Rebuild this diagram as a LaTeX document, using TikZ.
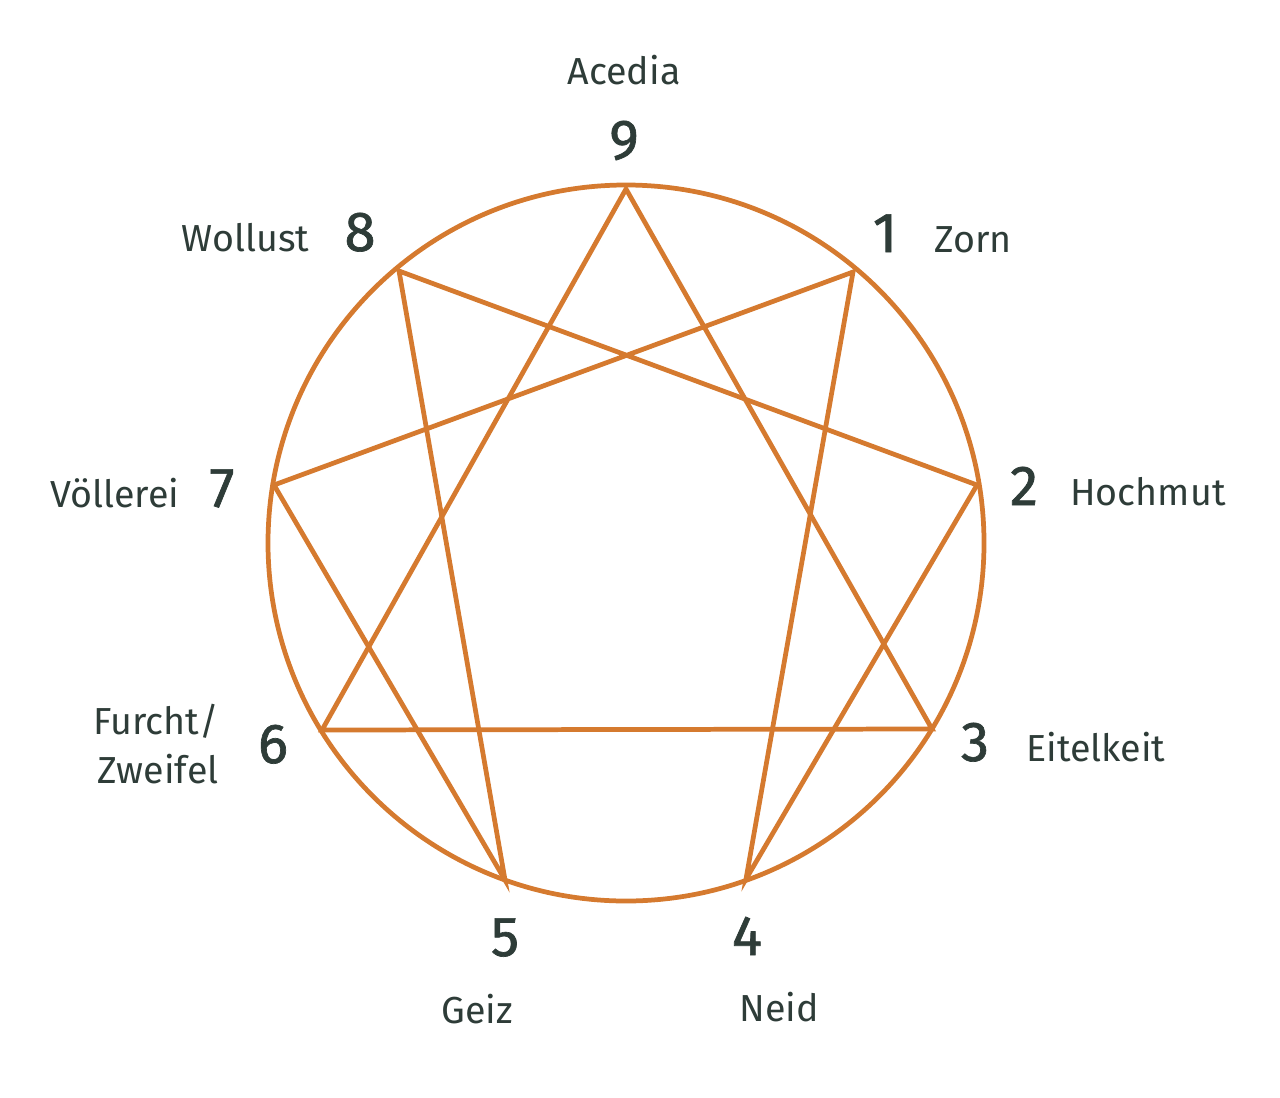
\documentclass[tikz,border=0pt]{standalone}
\usepackage{fontspec}
\setmainfont{Fira Sans}
\newfontfamily\numfont[FakeBold=1.2]{Fira Sans}
\usepackage{xcolor}
\usetikzlibrary{positioning}
\definecolor{ennorange}{HTML}{D57A2F}
\definecolor{enntext}{HTML}{2E3C38}

\begin{document}
\begin{tikzpicture}[
    num/.style ={inner sep=0pt, text=enntext, font=\numfont\fontsize{16}{18}\selectfont},
    lbl/.style ={inner sep=0pt, text=enntext, font=\fontsize{10.7}{14}\selectfont},
    ring/.style={draw=ennorange, line width=1.35pt},
    edge/.style={draw=ennorange, line width=1.35pt, line join=miter},
]
\useasboundingbox (0,0) rectangle (12.8,-10.97);
\coordinate (c) at (6.26,-5.43);
\coordinate (p9) at (6.26,-1.89);
\coordinate (p1) at (8.53,-2.72);
\coordinate (p2) at (9.77,-4.85);
\coordinate (p3) at (9.32,-7.29);
\coordinate (p4) at (7.46,-8.79);
\coordinate (p5) at (5.05,-8.80);
\coordinate (p6) at (3.22,-7.30);
\coordinate (p7) at (2.74,-4.85);
\coordinate (p8) at (3.99,-2.71);
\draw[ring] (c) circle (3.58);
% triangle 9-3-6 and hexad 1-4-2-8-5-7
\draw[edge] (p9) -- (p3) -- (p6) -- cycle;
\draw[edge] (p1) -- (p4) -- (p2) -- (p8) -- (p5) -- (p7) -- cycle;
\node[num, anchor=base] (n9) at (6.24,-1.59) {9};
\node[num, anchor=base] (n1) at (8.85,-2.52) {1};
\node[num, anchor=base] (n2) at (10.24,-5.05) {2};
\node[num, anchor=base] (n3) at (9.75,-7.61) {3};
\node[num, anchor=base] (n4) at (7.47,-9.55) {4};
\node[num, anchor=base] (n5) at (5.05,-9.56) {5};
\node[num, anchor=base] (n6) at (2.73,-7.63) {6};
\node[num, anchor=base] (n7) at (2.22,-5.07) {7};
\node[num, anchor=base] (n8) at (3.60,-2.51) {8};
\node[lbl, above=3.4mm of n9] (t9) {Acedia};
\node[lbl, mid right=3.6mm of n1] (t1) {Zorn};
\node[lbl, mid right=3.1mm of n2] (t2) {Hochmut};
\node[lbl, mid right=3.6mm of n3] (t3) {Eitelkeit};
\node[lbl, below=3.6mm of n4, xshift=3.2mm] (t4) {Neid};
\node[lbl, below=3.6mm of n5, xshift=-2.8mm] (t5) {Geiz};
\node[lbl, left=3.8mm of n6, align=right] (t6) {Furcht/\\Zweifel};
\node[lbl, mid left=2.9mm of n7] (t7) {Völlerei};
\node[lbl, mid left=3.4mm of n8] (t8) {Wollust};
\end{tikzpicture}
\end{document}
